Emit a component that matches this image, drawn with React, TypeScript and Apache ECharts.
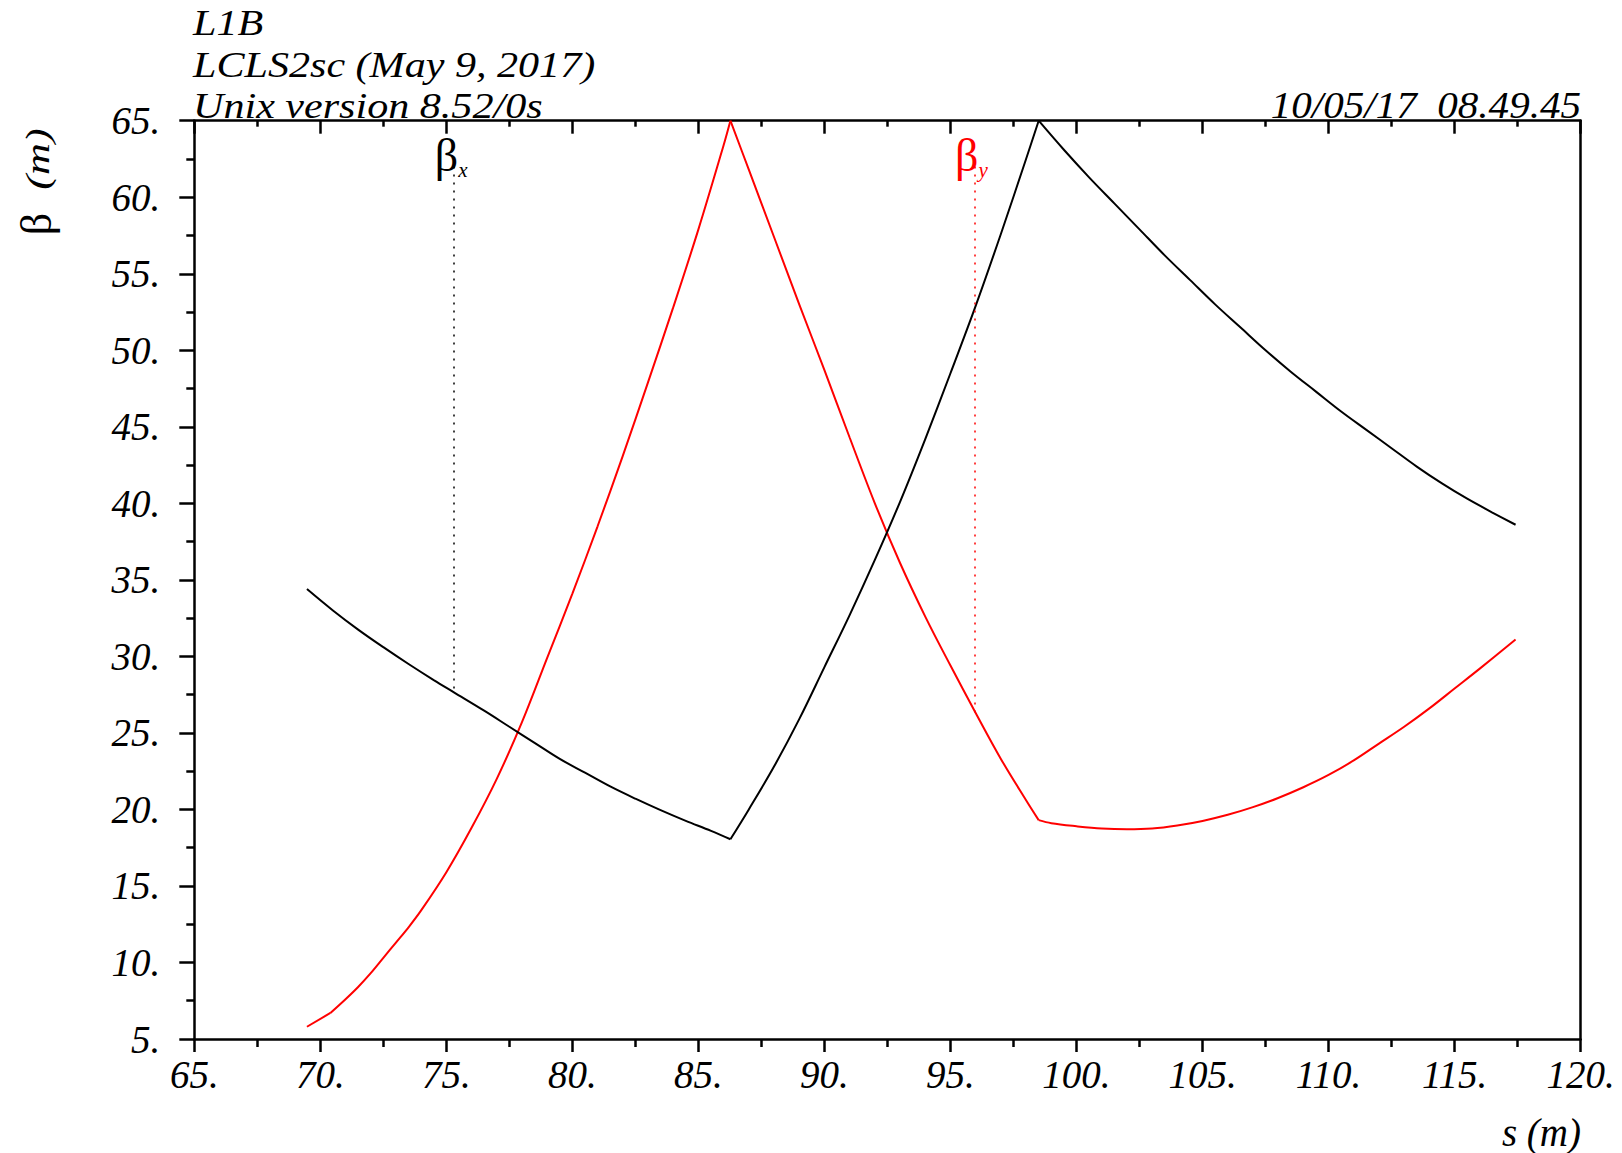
import React, { useEffect, useRef } from "react";
import * as echarts from "echarts";

// ---- Data ----
const sBetaX = [
  69.47, 70.5, 71.5, 72.5, 73.5, 74.5, 75.3, 76.5, 77.5, 78.5, 79.5, 80.5, 81.5, 82.5, 83.5, 84.5, 85.5, 86.27,
  87.0, 88.0, 89.0, 90.0, 91.0, 92.0, 93.0, 94.0, 95.0, 96.0, 97.0, 98.0, 98.5,
  99.5, 100.5, 101.5, 102.5, 103.5, 104.5, 105.5, 106.5, 107.5, 108.5, 109.5, 110.5, 111.5, 112.5, 113.5, 114.5, 115.5, 116.5, 117.42,
];
const betaX = [
  34.4, 33.0, 31.75, 30.6, 29.5, 28.45, 27.65, 26.45, 25.4, 24.35, 23.3, 22.4, 21.5, 20.7, 19.95, 19.25, 18.6, 18.05,
  20.0, 22.8, 25.9, 29.3, 32.7, 36.3, 40.1, 44.2, 48.5, 52.9, 57.6, 62.5, 65.0,
  63.1, 61.3, 59.6, 57.9, 56.2, 54.6, 53.0, 51.5, 50.0, 48.6, 47.3, 46.0, 44.8, 43.6, 42.4, 41.3, 40.3, 39.4, 38.6,
];
const sBetaY = [
  69.47, 70.4, 71.0, 71.5, 72.0, 72.5, 73.0, 73.5, 74.0, 75.0, 76.0, 77.0, 78.0, 79.0, 80.0, 81.0, 82.0, 83.0, 84.0, 85.0, 86.0, 86.27,
  87.0, 88.0, 89.0, 90.0, 91.0, 92.0, 93.0, 94.0, 95.0, 96.0, 97.0, 98.0, 98.5,
  99.0, 100.0, 101.0, 102.0, 103.0, 104.0, 105.0, 106.0, 107.0, 108.0, 109.0, 110.0, 111.0, 112.0, 113.0, 114.0, 115.0, 116.0, 117.42,
];
const betaY = [
  5.8, 6.7, 7.6, 8.4, 9.3, 10.3, 11.3, 12.3, 13.4, 15.9, 18.8, 22.0, 25.7, 29.9, 34.1, 38.5, 43.1, 47.9, 52.8, 57.9, 63.4, 65.0,
  61.8, 57.4, 53.0, 48.7, 44.3, 40.0, 36.1, 32.6, 29.4, 26.3, 23.3, 20.6, 19.3,
  19.1, 18.9, 18.75, 18.7, 18.75, 18.95, 19.25, 19.65, 20.15, 20.75, 21.45, 22.25, 23.2, 24.3, 25.4, 26.6, 27.9, 29.2, 31.1,
];
// element boundaries (kinks) in s where the curves change slope abruptly
const kinksX = [86.27, 98.5];
const kinksY = [70.4, 86.27, 98.5];

const xMin = 65;
const xMax = 120;
const xStep = 5;
const yMin = 5;
const yMax = 65;
const yStep = 5;

const headerLines = ["L1B", "LCLS2sc (May 9, 2017)", "Unix version 8.52/0s"];
const dateStamp = "10/05/17  08.49.45";
const xAxisTitle = "s (m)";
const yAxisSymbol = "β";
const yAxisUnit = "(m)";

// marker: s position, top of dotted line, bottom of dotted line (on curve)
const markerBetaX = [75.31, 62.0, 27.74];
const markerBetaY = [95.95, 62.0, 26.25];

const SERIF = "Liberation Serif";
const BLACK = "#000000";
const RED = "#ff0000";

function segments(s: number[], b: number[], kinks: number[]) {
  const segs: number[][][] = [];
  let cur: number[][] = [];
  for (let i = 0; i < s.length; i++) {
    cur.push([s[i], b[i]]);
    if (kinks.some((k) => Math.abs(k - s[i]) < 1e-9) && i < s.length - 1) {
      segs.push(cur);
      cur = [[s[i], b[i]]];
    }
  }
  segs.push(cur);
  return segs;
}

export default function App() {
  const ref = useRef<HTMLDivElement>(null);

  useEffect(() => {
    if (!ref.current) return;
    const chart = echarts.init(ref.current, undefined, { renderer: "svg" });

    const tickLabel = {
      show: true,
      color: BLACK,
      fontFamily: SERIF,
      fontStyle: "italic",
      fontSize: 39,
      formatter: (v: number) => `${v}.`,
    };

    const markerParts = (m: number[], color: string, sub: string) => ({
      markLine: {
        silent: true,
        symbol: ["none", "none"],
        label: { show: false },
        lineStyle: { color, type: [2, 6], width: 1.5 },
        data: [[{ coord: [m[0], m[1]] }, { coord: [m[0], m[2]] }]],
      },
      markPoint: {
        silent: true,
        symbol: "circle",
        symbolSize: 1,
        itemStyle: { color: "rgba(0,0,0,0)" },
        label: {
          show: true,
          position: "inside",
          formatter: `{b|β}{s|${sub}}`,
          rich: {
            b: { fontFamily: SERIF, fontSize: 46, color, lineHeight: 50 },
            s: { fontFamily: SERIF, fontStyle: "italic", fontSize: 21, color, verticalAlign: "bottom", lineHeight: 50 },
          },
        },
        data: [{ coord: [m[0] - 0.12, m[1] + 0.75], value: 0 }],
      },
    });

    const makeSeries = (s: number[], b: number[], kinks: number[], color: string, marker: number[], sub: string, z: number) =>
      segments(s, b, kinks).map((seg, i) => ({
        type: "line",
        xAxisIndex: 0,
        yAxisIndex: 0,
        data: seg,
        smooth: 0.35,
        showSymbol: false,
        symbol: "none",
        lineStyle: { color, width: 2 },
        itemStyle: { color },
        z,
        ...(i === 0 ? markerParts(marker, color, sub) : {}),
      }));

    const option: any = {
      animation: false,
      backgroundColor: "#ffffff",
      grid: {
        left: 194.3,
        right: 41.4,
        top: 120.7,
        bottom: 114,
        containLabel: false,
        outerBoundsMode: "none",
      },
      xAxis: [
        {
          type: "value",
          position: "bottom",
          min: xMin,
          max: xMax,
          interval: xStep,
          axisLine: { show: true, onZero: false, lineStyle: { color: BLACK, width: 2.5 } },
          axisTick: { show: true, inside: false, length: 13, lineStyle: { color: BLACK, width: 2.5 } },
          minorTick: { show: true, splitNumber: 2, length: 8, lineStyle: { color: BLACK, width: 2.5 } },
          axisLabel: { ...tickLabel, margin: 16 },
          splitLine: { show: false },
          minorSplitLine: { show: false },
        },
        {
          type: "value",
          position: "top",
          min: xMin,
          max: xMax,
          interval: xStep,
          axisLine: { show: true, onZero: false, lineStyle: { color: BLACK, width: 2.5 } },
          axisTick: { show: true, inside: true, length: 13, lineStyle: { color: BLACK, width: 2.5 } },
          minorTick: { show: true, splitNumber: 2, length: 6, lineStyle: { color: BLACK, width: 2.5 } },
          axisLabel: { show: false },
          splitLine: { show: false },
        },
      ],
      yAxis: [
        {
          type: "value",
          position: "left",
          min: yMin,
          max: yMax,
          interval: yStep,
          axisLine: { show: true, onZero: false, lineStyle: { color: BLACK, width: 2.5 } },
          axisTick: { show: true, inside: false, length: 15, lineStyle: { color: BLACK, width: 2.5 } },
          minorTick: { show: true, splitNumber: 2, length: 8, lineStyle: { color: BLACK, width: 2.5 } },
          axisLabel: { ...tickLabel, margin: 34 },
          splitLine: { show: false },
        },
        {
          type: "value",
          position: "right",
          min: yMin,
          max: yMax,
          interval: yStep,
          axisLine: { show: true, onZero: false, lineStyle: { color: BLACK, width: 2.5 } },
          axisTick: { show: false },
          axisLabel: { show: false },
          splitLine: { show: false },
        },
      ],
      series: [
        ...makeSeries(sBetaX, betaX, kinksX, BLACK, markerBetaX, "x", 3),
        ...makeSeries(sBetaY, betaY, kinksY, RED, markerBetaY, "y", 2),
      ],
      graphic: [
        ...headerLines.map((t, i) => ({
          type: "text",
          x: 193,
          y: 23 + i * 41.5,
          scaleX: 1.17,
          style: {
            text: t,
            fontFamily: SERIF,
            fontStyle: "italic",
            fontSize: 36,
            fill: BLACK,
            textAlign: "left",
            textVerticalAlign: "middle",
          },
        })),
        {
          type: "text",
          x: 1581,
          y: 105,
          scaleX: 1.11,
          style: {
            text: dateStamp,
            fontFamily: SERIF,
            fontStyle: "italic",
            fontSize: 37,
            fill: BLACK,
            textAlign: "right",
            textVerticalAlign: "middle",
          },
        },
        {
          type: "text",
          x: 1581,
          y: 1132,
          style: {
            text: xAxisTitle,
            fontFamily: SERIF,
            fontStyle: "italic",
            fontSize: 39,
            fill: BLACK,
            textAlign: "right",
            textVerticalAlign: "middle",
          },
        },
        {
          type: "text",
          x: 36,
          y: 224,
          rotation: Math.PI / 2,
          style: {
            text: yAxisSymbol,
            fontFamily: SERIF,
            fontSize: 44,
            fill: BLACK,
            textAlign: "center",
            textVerticalAlign: "middle",
          },
        },
        {
          type: "text",
          x: 38,
          y: 159,
          rotation: Math.PI / 2,
          scaleX: 1.3,
          style: {
            text: yAxisUnit,
            fontFamily: SERIF,
            fontStyle: "italic",
            fontSize: 34,
            fill: BLACK,
            textAlign: "center",
            textVerticalAlign: "middle",
          },
        },
      ],
    };

    chart.setOption(option);
    return () => chart.dispose();
  }, []);

  return (
    <div
      ref={ref}
      style={{ position: "fixed", left: 0, top: 0, width: 1622, height: 1153, background: "#fff" }}
    />
  );
}
